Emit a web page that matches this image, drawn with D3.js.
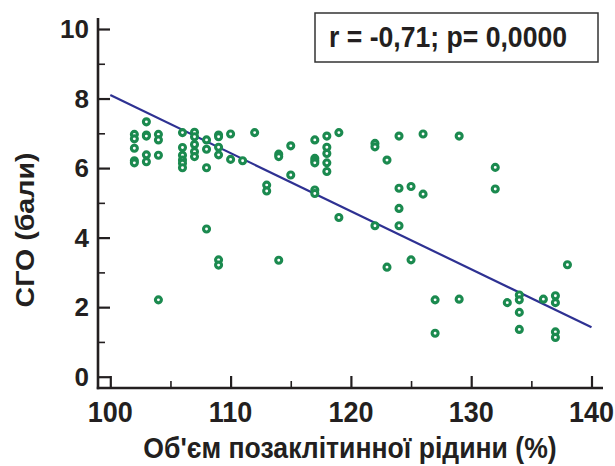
<!DOCTYPE html>
<html>
<head>
<meta charset="utf-8">
<script src="https://cdn.jsdelivr.net/npm/d3@7"></script>
<style>
  html, body { margin: 0; padding: 0; background: #fff; }
  svg { display: block; font-family: "Liberation Sans", Arial, sans-serif; }
  .lbl { font-weight: bold; fill: #231f20; }
</style>
</head>
<body>
<div id="chart"></div>
<script>
/* точки: об'єм позаклітинної рідини (%) / СГО (бали) */
const xVals = [
  102,102,102,102,102,
  103,103,103,103,103,
  104,104,104,104,
  106,106,106,106,106,106,
  107,107,107,107,107,
  108,108,108,108,
  109,109,109,109,109,109,
  110,110, 111, 112, 113,113,
  114,114,114, 115,115,
  117,117,117,117,117,117,
  118,118,118,118,118,
  119,119, 122,122,122, 123,123,
  124,124,124,124, 125,125, 126,126,
  127,127, 129,129, 132,132, 133,
  134,134,134,134, 136,
  137,137,137,137, 138
];
const yVals = [
  6.97,6.84,6.57,6.21,6.15,
  7.33,6.95,6.92,6.38,6.18,
  6.97,6.81,6.37,2.21,
  7.02,6.59,6.37,6.23,6.14,6.01,
  7.03,6.90,6.68,6.47,6.33,
  6.81,6.54,6.01,4.25,
  6.95,6.90,6.60,6.38,3.36,3.21,
  6.98,6.25, 6.21, 7.02, 5.51,5.34,
  6.40,6.33,3.35, 6.64,5.80,
  6.81,6.28,6.21,6.15,5.37,5.27,
  6.92,6.60,6.42,6.15,5.90,
  7.02,4.58, 6.71,6.61,4.34, 6.23,3.15,
  6.92,5.42,4.84,4.34, 5.47,3.36, 6.98,5.25,
  2.21,1.25, 6.92,2.23, 6.02,5.40, 2.13,
  2.35,2.21,1.85,1.36, 2.23,
  2.33,2.13,1.29,1.13, 3.22
];
const fitX = [100, 140];
const fitY = [8.1, 1.42];
const xTicks = [100, 110, 120, 130, 140];
const xMinor = [105, 115, 125, 135];
const yTicks = [0, 2, 4, 6, 8, 10];
const yMinor = [1, 3, 5, 7, 9];
const statText = "r = -0,71; p= 0,0000";
const xTitle = "Об'єм позаклітинної рідини (%)";
const yTitle = "СГО (бали)";

const W = 615, H = 466;
const ink = '#231f20';
const svg = d3.select('#chart').append('svg').attr('width', W).attr('height', H);

const x = d3.scaleLinear().domain([100, 140]).range([110.3, 591.5]);
const y = d3.scaleLinear().domain([0, 10]).range([376.7, 29]);
const axX = 98, axY = 388; // осі зміщені від нуля

/* осі */
svg.append('line').attr('x1', axX).attr('x2', axX).attr('y1', 18).attr('y2', axY + 1.2)
  .attr('stroke', ink).attr('stroke-width', 2.6);
svg.append('line').attr('x1', axX - 1.2).attr('x2', 603).attr('y1', axY).attr('y2', axY)
  .attr('stroke', ink).attr('stroke-width', 2.6);

const tickAxis = (g, axis, w) => {
  g.call(axis);
  g.select('.domain').remove();
  g.selectAll('.tick line').attr('stroke', ink).attr('stroke-width', w);
  g.selectAll('.tick text').remove();
};
svg.append('g').attr('transform', `translate(0,${axY})`)
  .call(g => tickAxis(g, d3.axisBottom(x).tickValues(xTicks).tickSize(-12), 2.2));
svg.append('g').attr('transform', `translate(0,${axY})`)
  .call(g => tickAxis(g, d3.axisBottom(x).tickValues(xMinor).tickSize(-7), 1.6));
svg.append('g').attr('transform', `translate(${axX},0)`)
  .call(g => tickAxis(g, d3.axisLeft(y).tickValues(yTicks).tickSize(-12), 2.2));
svg.append('g').attr('transform', `translate(${axX},0)`)
  .call(g => tickAxis(g, d3.axisLeft(y).tickValues(yMinor).tickSize(-7), 1.6));

/* підписи поділок */
svg.append('g').selectAll('text').data(xTicks).join('text')
  .attr('class', 'lbl').attr('text-anchor', 'middle').style('font-size', '27px')
  .attr('transform', d => `translate(${x(d)},421.5) scale(1,1.12)`)
  .text(d => d);
svg.append('g').selectAll('text').data(yTicks).join('text')
  .attr('class', 'lbl').attr('text-anchor', 'end').style('font-size', '26px')
  .attr('transform', d => `translate(89,${y(d) + 9.3}) scale(1,1.02)`)
  .text(d => d);

/* назви осей */
svg.append('text').attr('class', 'lbl').attr('text-anchor', 'middle').style('font-size', '26.6px')
  .attr('transform', 'translate(350,458) scale(1,1.12)').text(xTitle);
svg.append('text').attr('class', 'lbl').attr('text-anchor', 'middle').style('font-size', '26px')
  .attr('transform', 'translate(34,230) rotate(-90) scale(1.1,1)').text(yTitle);

/* лінія регресії */
svg.append('line')
  .attr('x1', x(fitX[0])).attr('y1', y(fitY[0]))
  .attr('x2', x(fitX[1])).attr('y2', y(fitY[1]))
  .attr('stroke', '#2e3192').attr('stroke-width', 2.2);

/* точки */
svg.append('g').selectAll('circle').data(xVals.map((v, i) => [v, yVals[i]])).join('circle')
  .attr('cx', d => x(d[0])).attr('cy', d => y(d[1])).attr('r', 3)
  .attr('fill', '#fff').attr('stroke', '#1b8a4f').attr('stroke-width', 3.1);

/* рамка зі статистикою */
svg.append('rect').attr('x', 315).attr('y', 13).attr('width', 283).attr('height', 49)
  .attr('fill', '#fff').attr('stroke', '#333').attr('stroke-width', 1.5);
svg.append('text').attr('class', 'lbl').style('font-size', '26.6px')
  .attr('transform', 'translate(329,47) scale(1,1.12)').text(statText);
</script>
</body>
</html>
